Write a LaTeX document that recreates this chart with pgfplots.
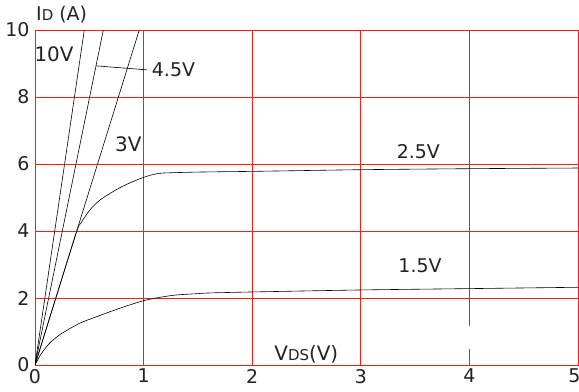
\documentclass[border=0pt]{standalone}
\usepackage{pgfplots}
\pgfplotsset{compat=1.18}
\usepackage{fontspec}
\setmainfont{DejaVu Sans}
\definecolor{txt}{HTML}{222222}
\definecolor{grd}{HTML}{FF1A1A}
\begin{document}
\begin{tikzpicture}
\begin{axis}[
  at={(0,0)}, anchor=south west,
  scale only axis, width=543bp, height=335bp,
  xmin=0, xmax=5, ymin=0, ymax=10,
  xtick={0,1,2,3,4,5}, ytick={0,2,4,6,8,10},
  xticklabels={0,1,2,3,4,\hspace*{-7bp}5},
  grid=major,
  major grid style={grd, line width=0.7pt},
  axis line style={grd, line width=0.7pt},
  major tick length=0pt,
  /pgf/number format/assume math mode=true,
  ticklabel style={font=\fontsize{19}{22}\selectfont, text=txt},
  xticklabel style={yshift=-0.5bp},
  yticklabel style={xshift=-2bp},
  clip=true,
]
\addplot[black, line width=0.6pt] coordinates {(0,0) (0.454,10)};
\addplot[black, line width=0.6pt] coordinates {(0,0) (0.629,10)};
\addplot[black, line width=0.6pt] coordinates {(0,0) (0.96,10)};
\addplot[black, line width=0.6pt, smooth, tension=0.4] coordinates {
(0,0) (0.37,3.85) (0.42,4.22) (0.476,4.5) (0.53,4.72) (0.6,4.93) (0.68,5.1)
(0.752,5.24) (0.83,5.37) (0.92,5.5) (1.0,5.6) (1.08,5.68) (1.18,5.73)
(1.52,5.76) (2,5.78) (3,5.83) (4,5.86) (5,5.88)};
\addplot[black, line width=0.6pt, smooth, tension=0.5] coordinates {
(0,0) (0.05,0.3) (0.1,0.52) (0.15,0.7) (0.245,0.94) (0.414,1.25) (0.55,1.42)
(0.69,1.59) (0.85,1.77) (1.0,1.92) (1.15,2.02) (1.3,2.09) (1.5,2.13) (1.6,2.15)
(2,2.18) (3,2.24) (4,2.28) (5,2.32)};
\draw[white, line width=2.5pt] (axis cs:4,0.48) -- (axis cs:4,1.16);
\draw[black, line width=0.6pt] (axis cs:0.562,8.93) -- (axis cs:1.031,8.81);
\begin{scope}[every node/.style={text=txt, inner sep=0pt}]
\node[font=\fontsize{20}{24}\selectfont] at (axis cs:0.175,9.28) {10V};
\node[font=\fontsize{19}{22}\selectfont, anchor=west] at (axis cs:1.075,8.81) {4.5V};
\node[font=\fontsize{20}{24}\selectfont] at (axis cs:0.86,6.6) {3V};
\node[font=\fontsize{19}{22}\selectfont] at (axis cs:3.53,6.37) {2.5V};
\node[font=\fontsize{19}{22}\selectfont] at (axis cs:3.545,2.96) {1.5V};
\node[font=\fontsize{20}{24}\selectfont] at (axis cs:2.498,0.31) {V{\fontsize{15}{18}\selectfont DS}(V)};
\end{scope}
\end{axis}
\node[text=txt, inner sep=0pt, anchor=west, font=\fontsize{19}{22}\selectfont] at (1bp,350.8bp) {I{\fontsize{15}{18}\selectfont D} (A)};
\pgfresetboundingbox
\path (-35bp,-27bp) rectangle (544bp,365bp);
\end{tikzpicture}
\end{document}
